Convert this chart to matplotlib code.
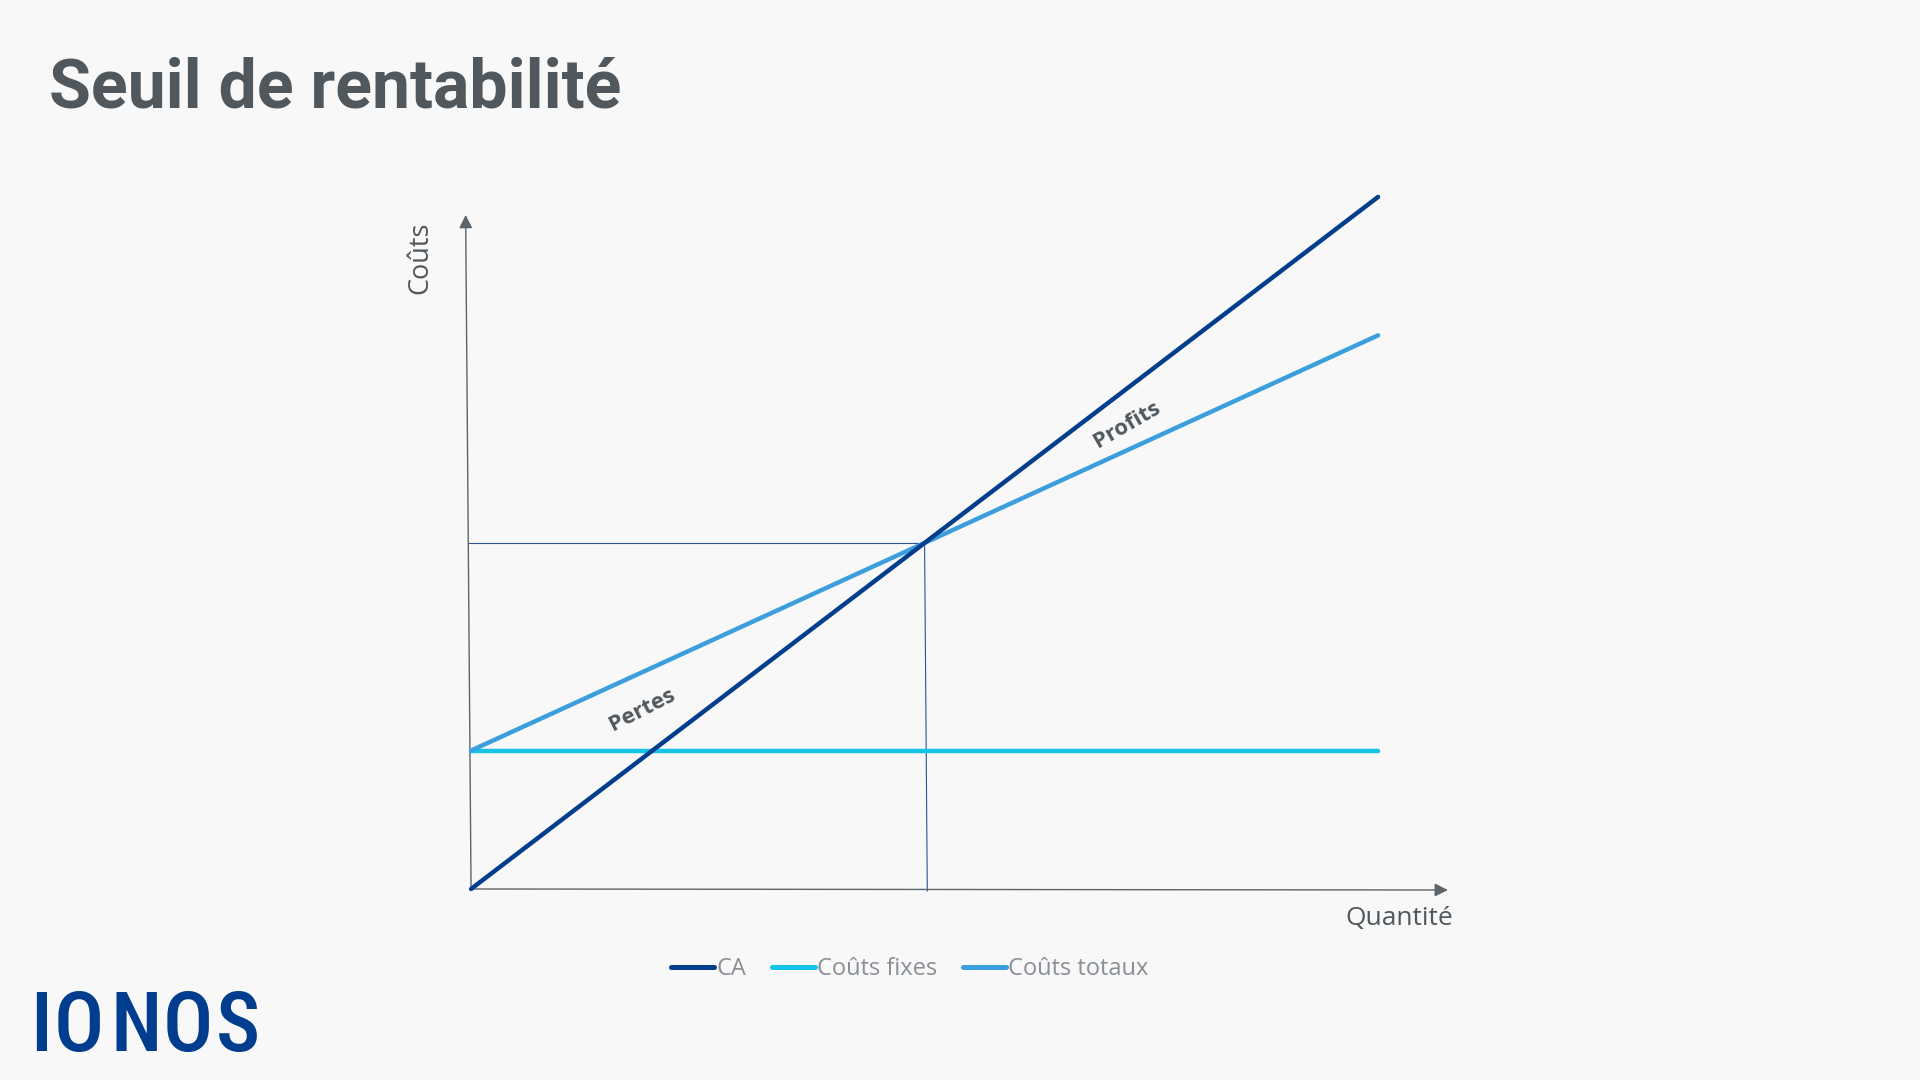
import matplotlib
matplotlib.use("Agg")
import matplotlib.pyplot as plt
from matplotlib import font_manager

# data (arbitrary units)
quantite = [0, 100]
ca = [0, 100]
couts_fixes = [20, 20]
couts_totaux = [20, 80]
seuil_q = 50
seuil_cout = 50
legende = ["CA", "Coûts fixes", "Coûts totaux"]

BG = "#f8f8f8"
GRIS = "#50585d"
C_CA = "#023e8c"
C_FIXES = "#14c4e7"
C_TOTAUX = "#3c9fdd"

noms = {f.name for f in font_manager.fontManager.ttflist}
logo_font = "DejaVu Sans"
for n in ["Roboto Condensed", "Liberation Sans Narrow", "DejaVu Sans"]:
    if n in noms:
        logo_font = n
        break

fig = plt.figure(figsize=(19.2, 10.8), dpi=100, facecolor=BG)
ax = fig.add_axes([0.1981, 0.1128, 0.5669, 0.7369])
ax.set_facecolor(BG)
ax.set_xlim(-10, 110)
ax.set_ylim(-10, 105)
ax.axis("off")

# guides to the break-even point
ax.plot([-0.2, seuil_q], [seuil_cout, seuil_cout], color="#2a5499", lw=0.8, clip_on=False)
ax.plot([seuil_q, seuil_q + 0.3], [seuil_cout, -0.3], color="#2a5499", lw=0.8, clip_on=False)

# axes with arrows
ax.annotate("", xy=(-0.6, 97.8), xytext=(0, 0),
            arrowprops=dict(arrowstyle="-|>", color="#5d6469", lw=1, mutation_scale=20))
ax.annotate("", xy=(108, -0.15), xytext=(0, 0),
            arrowprops=dict(arrowstyle="-|>", color="#5d6469", lw=1, mutation_scale=20))

ax.plot(quantite, couts_fixes, color=C_FIXES, lw=3.2, solid_capstyle="round",
        label=legende[1], clip_on=False, zorder=3)
ax.plot(quantite, couts_totaux, color=C_TOTAUX, lw=3.2, solid_capstyle="round",
        label=legende[2], clip_on=False, zorder=4)
ax.plot(quantite, ca, color=C_CA, lw=3.2, solid_capstyle="round",
        label=legende[0], clip_on=False, zorder=5)

ax.text(18.85, 25.9, "Pertes", rotation=27, ha="center", va="center",
        fontsize=16, fontweight="bold", family="Open Sans", color=GRIS)
ax.text(72.3, 67.1, "Profits", rotation=30, ha="center", va="center",
        fontsize=16, fontweight="bold", family="Open Sans", color=GRIS)
ax.text(108.3, -4.3, "Quantité", ha="right", va="center",
        fontsize=19, family="Open Sans", color=GRIS)
ax.text(-5.6, 91.2, "Coûts", rotation=90, ha="center", va="center",
        fontsize=19.5, family="Open Sans", color=GRIS)

h, l = ax.get_legend_handles_labels()
ordre = [2, 0, 1]
leg = ax.legend([h[i] for i in ordre], [l[i] for i in ordre],
                loc="center", bbox_to_anchor=(910 / 1920, 1 - 969 / 1080),
                bbox_transform=fig.transFigure, ncol=3, frameon=False,
                handlelength=1.8, handletextpad=0.1, columnspacing=1.1,
                prop={"family": "Open Sans", "size": 17}, labelcolor="#8a9096")
for ln in leg.get_lines():
    ln.set_linewidth(3.6)
    ln.set_solid_capstyle("round")

fig.text(49 / 1920, 1 - 108 / 1080, "Seuil de rentabilité", ha="left", va="baseline",
         fontsize=49, fontweight="bold", family="Roboto", color=GRIS)

# logo
for lettre, cx in zip("IONOS", [41, 79, 136, 188, 238]):
    fig.text(cx / 1920, 1 - 1028 / 1080, lettre, ha="center", va="center",
             fontsize=60, fontweight="medium", fontstretch="condensed",
             family=logo_font, color="#003d8f")

fig.savefig("out.png", dpi=100, facecolor=BG)
